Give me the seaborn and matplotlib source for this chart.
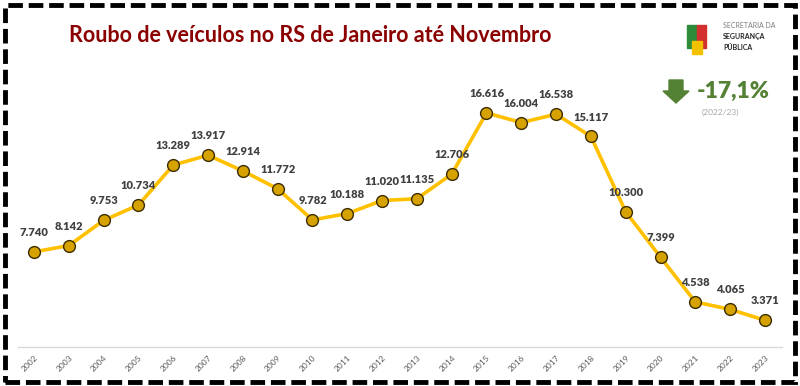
import numpy as np
import pandas as pd
import matplotlib.pyplot as plt
import seaborn as sb
from matplotlib.patches import Rectangle, Polygon

# data
anos = ['2002', '2003', '2004', '2005', '2006', '2007', '2008', '2009', '2010', '2011', '2012',
        '2013', '2014', '2015', '2016', '2017', '2018', '2019', '2020', '2021', '2022', '2023']
roubos = [7740, 8142, 9753, 10734, 13289, 13917, 12914, 11772, 9782, 10188, 11020,
          11135, 12706, 16616, 16004, 16538, 15117, 10300, 7399, 4538, 4065, 3371]
variacao = '-17,1%'
periodo = '(2022/23)'
titulo = 'Roubo de veículos no RS de Janeiro até Novembro'

df = pd.DataFrame({'pos': np.arange(len(anos)), 'ano': anos, 'roubos': roubos})

sb.set_style("white")
plt.rcParams['font.family'] = ['Lato', 'DejaVu Sans']

fig = plt.figure(figsize=(8, 3.86), dpi=100)
ax = fig.add_axes([0.0225, 0.101, 0.955, 0.7435])

sb.lineplot(data=df, x='pos', y='roubos', ax=ax, color='#FFC000', linewidth=2.6,
            marker='o', markersize=8.5, markerfacecolor='#D6A200',
            markeredgecolor='#3b2c00', markeredgewidth=1.0)

# value labels
for _, r in df.iterrows():
    ax.annotate(f"{r.roubos:,}".replace(",", "."), (r.pos, r.roubos), xytext=(0, 10),
                textcoords='offset points', ha='center', va='bottom',
                fontsize=8, fontweight='heavy', color='#404040')

ax.set_xlim(-0.46, 21.49)
ax.set_ylim(1660, 20000)
ax.set_xticks(df.pos)
ax.set_xticklabels(anos, rotation=45, ha='right', rotation_mode='anchor',
                   fontsize=6, color='#595959')
ax.tick_params(axis='x', length=0, pad=5)
ax.set_yticks([])
ax.set_xlabel('')
ax.set_ylabel('')
for s in ['top', 'left', 'right']:
    ax.spines[s].set_visible(False)
ax.spines['bottom'].set_color('#d9d9d9')
ax.spines['bottom'].set_linewidth(1.0)

# title
fig.text(0.3875, 0.908, titulo, ha='center', va='center', fontsize=15.5,
         fontweight='bold', color='#8B0000')

# variation box: block arrow pointing down (pixel outline -> figure fraction)
seta_px = [(669, 80), (683, 80), (683, 91), (689, 91), (676, 103), (663, 91), (669, 91)]
seta = [(x / 800, 1 - y / 386) for x, y in seta_px]
fig.patches.append(Polygon(seta, closed=True, color='#548235', transform=fig.transFigure))
fig.text(0.871, 0.763, variacao, ha='left', va='center', fontsize=16.5,
         fontweight='heavy', color='#548235')
fig.text(0.901, 0.708, periodo, ha='center', va='center', fontsize=6, color='#a6a6a6')

# simple emblem + secretaria text
fig.patches.append(Rectangle((0.859, 0.875), 0.012, 0.06, color='#2e8b3a', transform=fig.transFigure))
fig.patches.append(Rectangle((0.871, 0.875), 0.012, 0.06, color='#d32f2f', transform=fig.transFigure))
fig.patches.append(Rectangle((0.865, 0.86), 0.012, 0.035, color='#f2c200', transform=fig.transFigure))
fig.text(0.904, 0.935, 'SECRETARIA DA', fontsize=5, color='#7f7f7f', va='center')
fig.text(0.904, 0.905, 'SEGURANÇA', fontsize=5, fontweight='bold', color='#262626', va='center')
fig.text(0.904, 0.877, 'PÚBLICA', fontsize=5, fontweight='bold', color='#262626', va='center')

# dashed border
fig.patches.append(Rectangle((0.006, 0.01), 0.988, 0.978, fill=False, edgecolor='black',
                             linewidth=3.5, linestyle=(0, (3, 1.2)), transform=fig.transFigure))

plt.savefig('out.png', dpi=100)
